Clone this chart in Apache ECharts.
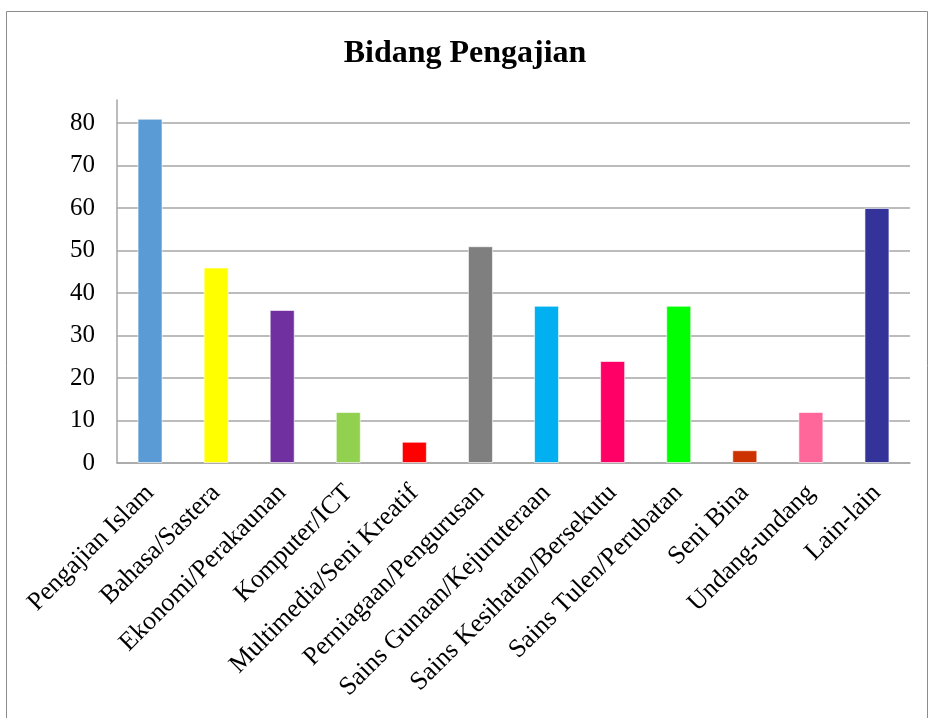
<!DOCTYPE html>
<html>
<head>
<meta charset="utf-8">
<script src="https://cdn.jsdelivr.net/npm/echarts@6/dist/echarts.min.js"></script>
<style>
  html, body { margin: 0; padding: 0; background: #fff; }
  #main { width: 930px; height: 718px; }
</style>
</head>
<body>
<div id="main"></div>
<script>
  const categories = ['Pengajian Islam', 'Bahasa/Sastera', 'Ekonomi/Perakaunan', 'Komputer/ICT',
    'Multimedia/Seni Kreatif', 'Perniagaan/Pengurusan', 'Sains Gunaan/Kejuruteraan',
    'Sains Kesihatan/Bersekutu', 'Sains Tulen/Perubatan', 'Seni Bina', 'Undang-undang', 'Lain-lain'];
  const values = [81, 46, 36, 12, 5, 51, 37, 24, 37, 3, 12, 60];
  const barColors = ['#5B9BD5', '#FFFF00', '#7030A0', '#92D050', '#FF0000', '#7F7F7F',
    '#00B0F0', '#FF0066', '#00FF00', '#CC3300', '#FF6699', '#333399'];

  // grid lines at 0..80, none at the top of the axis
  const gridColors = [];
  for (let i = 0; i < 9; i++) gridColors.push('#A6A6A6');
  gridColors.push('rgba(0,0,0,0)');

  const font = '"Liberation Serif", "Times New Roman", serif';

  let myChart = echarts.init(document.getElementById('main'));
  let option = {
    animation: false,
    title: {
      text: 'Bidang Pengajian',
      left: 'center',
      top: 33,
      textStyle: { fontFamily: font, fontSize: 32, fontWeight: 'bold', color: '#000' }
    },
    graphic: [{
      type: 'rect',
      shape: { x: 6.5, y: 11.5, width: 921, height: 720 },
      style: { fill: 'none', stroke: '#8C8C8C', lineWidth: 1 }
    }],
    grid: { left: 117, right: 20, top: 100, bottom: 255 },
    xAxis: {
      type: 'category',
      data: categories,
      axisLine: { lineStyle: { color: '#A6A6A6', width: 1.5 } },
      axisTick: { show: false },
      axisLabel: {
        rotate: 45,
        interval: 0,
        margin: 26,
        fontFamily: font,
        fontSize: 26,
        color: '#000'
      }
    },
    yAxis: {
      type: 'value',
      min: 0,
      max: 85.4,
      interval: 10,
      axisLine: { show: true, lineStyle: { color: '#A6A6A6', width: 1.5 } },
      axisTick: { show: false },
      splitLine: { show: true, lineStyle: { color: gridColors, width: 1.5 } },
      axisLabel: {
        showMaxLabel: false,
        margin: 22,
        fontFamily: font,
        fontSize: 25,
        color: '#000'
      }
    },
    series: [{
      type: 'bar',
      barWidth: 25,
      data: values.map((v, i) => ({
        value: v,
        itemStyle: { color: barColors[i], borderColor: 'rgba(255,255,255,0.6)', borderWidth: 1 }
      }))
    }]
  };
  option && myChart.setOption(option);
</script>
</body>
</html>
